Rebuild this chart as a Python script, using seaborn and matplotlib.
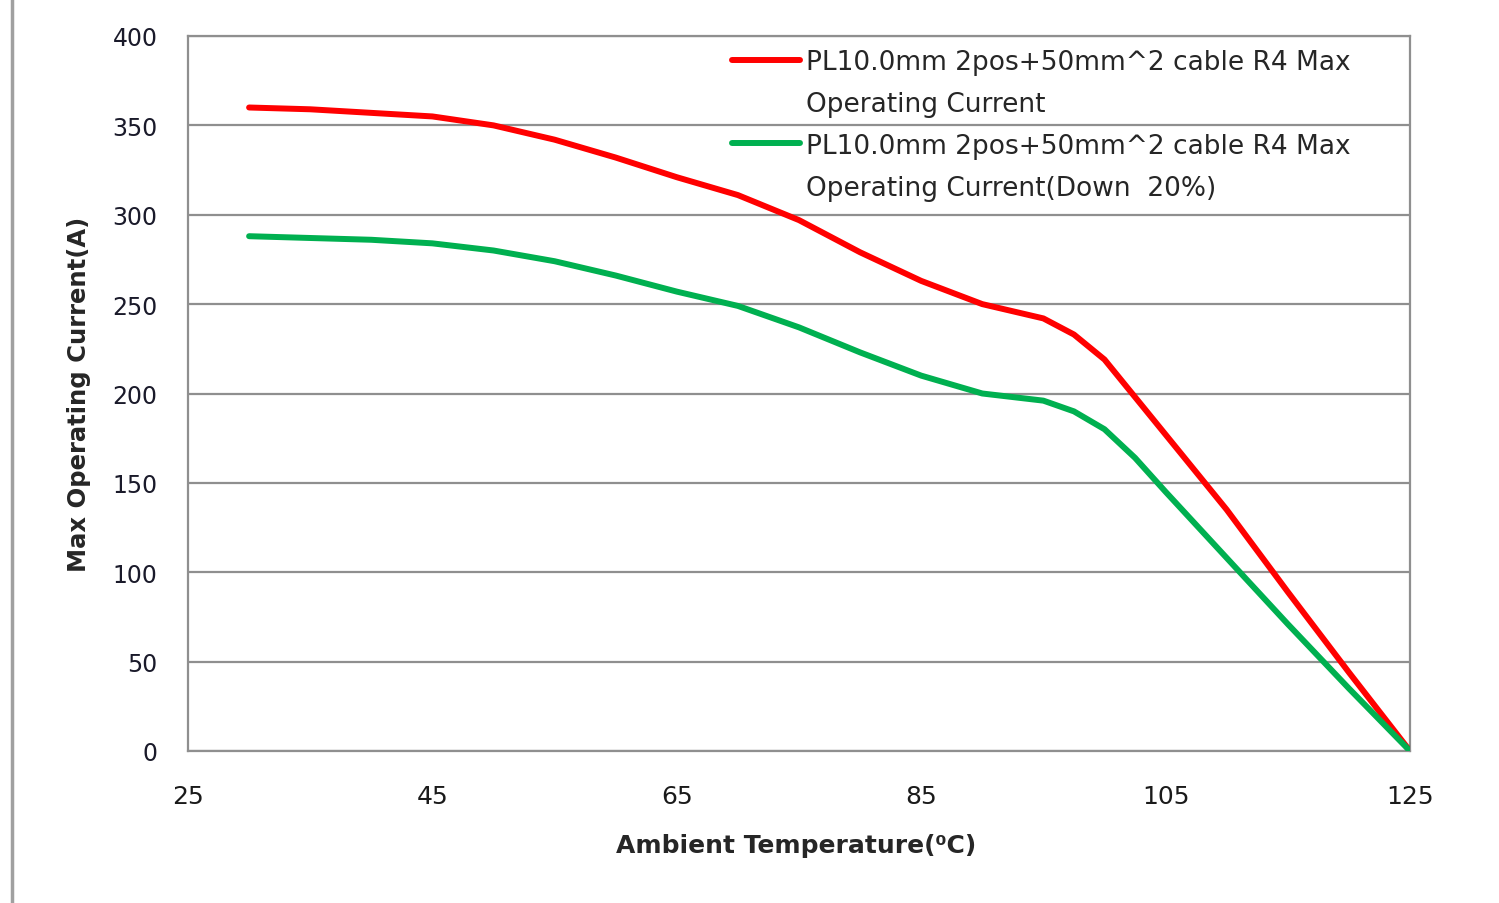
import matplotlib
matplotlib.use("Agg")
import matplotlib.pyplot as plt
from matplotlib.lines import Line2D
import pandas as pd
import seaborn as sns

# values
temps = [30, 35, 40, 45, 50, 55, 60, 65, 70, 75, 80, 85, 90, 95, 97.5, 100, 102.5, 105, 110, 115, 120, 125]
max_current = [360, 359, 357, 355, 350, 342, 332, 321, 311, 297, 279, 263, 250, 242, 233, 219, 198, 177, 135, 89, 44, 0]
down_20 = [288, 287, 286, 284, 280, 274, 266, 257, 249, 237, 223, 210, 200, 196, 190, 180, 164, 145, 108, 71, 35, 0]

series_names = ["max", "down"]
legend_lines = [
    ["PL10.0mm 2pos+50mm^2 cable R4 Max", "Operating Current"],
    ["PL10.0mm 2pos+50mm^2 cable R4 Max", "Operating Current(Down  20%)"],
]
colors = ["#ff0000", "#00b050"]

x_ticks = [25, 45, 65, 85, 105, 125]
y_ticks = [0, 50, 100, 150, 200, 250, 300, 350, 400]

df = pd.concat([
    pd.DataFrame({"temp": temps, "current": max_current, "series": series_names[0]}),
    pd.DataFrame({"temp": temps, "current": down_20, "series": series_names[1]}),
])

sns.set_style("white")
plt.rcParams["font.family"] = ["DejaVu Sans"]

fig = plt.figure(figsize=(14.99, 9.04), dpi=100)
ax = fig.add_axes([188 / 1499, 1 - 752 / 904, (1410 - 188) / 1499, (752 - 37) / 904])

grid_gray = "#8f8f8f"
for yv in y_ticks:
    ax.axhline(yv, color=grid_gray, lw=1.6, zorder=1)

sns.lineplot(data=df, x="temp", y="current", hue="series", palette=dict(zip(series_names, colors)),
             linewidth=4.3, legend=False, ax=ax, zorder=3, solid_capstyle="round", solid_joinstyle="round")

ax.set_xlim(25, 125)
ax.set_ylim(0, 400)
ax.set_xticks(x_ticks)
ax.set_yticks(y_ticks)
ax.tick_params(length=0)
ax.tick_params(axis="y", pad=22, labelsize=17, labelcolor="#1a1a2a")
ax.tick_params(axis="x", pad=24, labelsize=18, labelcolor="#1a1a1a")
for s in ax.spines.values():
    s.set_color(grid_gray)
    s.set_linewidth(1.6)

ax.set_xlabel("Ambient Temperature(⁰C)", fontsize=18, fontweight="bold")
ax.set_ylabel("Max Operating Current(A)", fontsize=17.5, fontweight="bold")
ax.xaxis.set_label_coords(0.4975, -0.1146)
ax.yaxis.set_label_coords(-0.0794, 0.5)

# legend: handle sits beside the first line of each two-line label
handles, labels = [], []
for col, lines in zip(colors, legend_lines):
    handles.append(Line2D([], [], color=col, lw=4.3))
    labels.append(lines[0])
    handles.append(Line2D([], [], color="none"))
    labels.append(lines[1])
ax.legend(handles, labels, loc="upper left", bbox_to_anchor=(732 / 1499, 1 - 50 / 904),
          bbox_transform=fig.transFigure, frameon=False, fontsize=19, handlelength=2.58,
          handletextpad=0.23, borderpad=0, borderaxespad=0, labelspacing=0.6)

# outer chart border on the left
fig.add_artist(Line2D([12 / 1499, 12 / 1499], [0, 1], color="#a0a0a0", lw=2.5, transform=fig.transFigure))

fig.savefig("out.png", dpi=100)
